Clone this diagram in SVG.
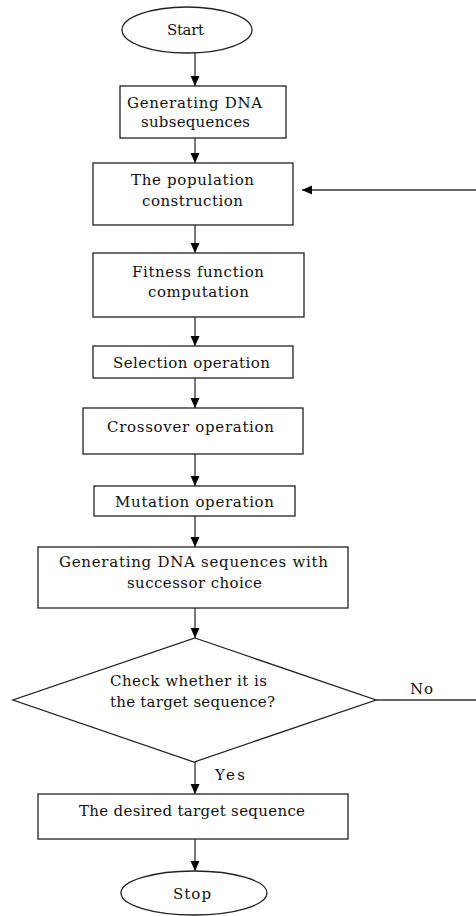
<svg xmlns="http://www.w3.org/2000/svg" width="476" height="916" viewBox="0 0 476 916">
<defs>
<marker id="ah" markerUnits="userSpaceOnUse" markerWidth="11" markerHeight="10" refX="10" refY="4.5" orient="auto">
<path d="M0,0 L10,4.5 L0,9 z" fill="#000"/>
</marker>
<style>
.n{fill:#fff;stroke:#222;stroke-width:1.3}
.t{font-family:"DejaVu Serif","Liberation Serif",serif;font-size:15px;fill:#111}
.c{fill:none;stroke:#333;stroke-width:1.3}
</style>
</defs>
<rect width="476" height="916" fill="#fff"/>
<g id="connectors">
<line class="c" x1="195" y1="53" x2="195" y2="86" marker-end="url(#ah)"/>
<line class="c" x1="195" y1="138" x2="195" y2="163" marker-end="url(#ah)"/>
<line class="c" x1="195" y1="225" x2="195" y2="253" marker-end="url(#ah)"/>
<line class="c" x1="195" y1="317" x2="195" y2="346" marker-end="url(#ah)"/>
<line class="c" x1="195" y1="378" x2="195" y2="408" marker-end="url(#ah)"/>
<line class="c" x1="195" y1="454" x2="195" y2="486" marker-end="url(#ah)"/>
<line class="c" x1="195" y1="516" x2="195" y2="547" marker-end="url(#ah)"/>
<line class="c" x1="195" y1="608" x2="195" y2="638" marker-end="url(#ah)"/>
<line class="c" x1="195" y1="762" x2="195" y2="794" marker-end="url(#ah)"/>
<line class="c" x1="195" y1="839" x2="195" y2="871" marker-end="url(#ah)"/>
<line class="c" x1="376" y1="700" x2="477" y2="700"/>
<line class="c" x1="477" y1="190" x2="302" y2="190" marker-end="url(#ah)"/>
<text class="t" x="410" y="694" textLength="23" lengthAdjust="spacing">No</text>
<text class="t" x="215" y="780" textLength="30" lengthAdjust="spacing">Yes</text>
</g>
<g id="start">
<ellipse class="n" cx="187" cy="30" rx="65" ry="23"/>
<text class="t" x="167" y="35" textLength="37" lengthAdjust="spacing">Start</text>
</g>
<g id="gen-sub">
<rect class="n" x="120" y="86" width="166" height="52"/>
<text class="t" x="127" y="108" textLength="135" lengthAdjust="spacing">Generating DNA</text>
<text class="t" x="141" y="127" textLength="109" lengthAdjust="spacing">subsequences</text>
</g>
<g id="population">
<rect class="n" x="93" y="163" width="200" height="62"/>
<text class="t" x="131" y="185" textLength="123" lengthAdjust="spacing">The population</text>
<text class="t" x="142" y="206" textLength="101" lengthAdjust="spacing">construction</text>
</g>
<g id="fitness">
<rect class="n" x="93" y="253" width="211" height="64"/>
<text class="t" x="132" y="277" textLength="132" lengthAdjust="spacing">Fitness function</text>
<text class="t" x="148" y="297" textLength="101" lengthAdjust="spacing">computation</text>
</g>
<g id="selection">
<rect class="n" x="93" y="346" width="200" height="32"/>
<text class="t" x="113" y="368" textLength="157" lengthAdjust="spacing">Selection operation</text>
</g>
<g id="crossover">
<rect class="n" x="83" y="408" width="220" height="46"/>
<text class="t" x="107" y="432" textLength="167" lengthAdjust="spacing">Crossover operation</text>
</g>
<g id="mutation">
<rect class="n" x="94" y="486" width="201" height="30"/>
<text class="t" x="115" y="507" textLength="159" lengthAdjust="spacing">Mutation operation</text>
</g>
<g id="gen-seq">
<rect class="n" x="38" y="547" width="310" height="61"/>
<text class="t" x="59" y="567" textLength="269" lengthAdjust="spacing">Generating DNA sequences with</text>
<text class="t" x="127" y="588" textLength="135" lengthAdjust="spacing">successor choice</text>
</g>
<g id="check">
<polygon class="n" points="195,638 376,700 194,762 13,700"/>
<text class="t" x="110" y="686" textLength="157" lengthAdjust="spacing">Check whether it is</text>
<text class="t" x="110" y="707" textLength="165" lengthAdjust="spacing">the target sequence?</text>
</g>
<g id="desired">
<rect class="n" x="38" y="794" width="310" height="45"/>
<text class="t" x="79" y="816" textLength="226" lengthAdjust="spacing">The desired target sequence</text>
</g>
<g id="stop">
<ellipse class="n" cx="194" cy="893" rx="73" ry="22"/>
<text class="t" x="173" y="899" textLength="38" lengthAdjust="spacing">Stop</text>
</g>
</svg>
